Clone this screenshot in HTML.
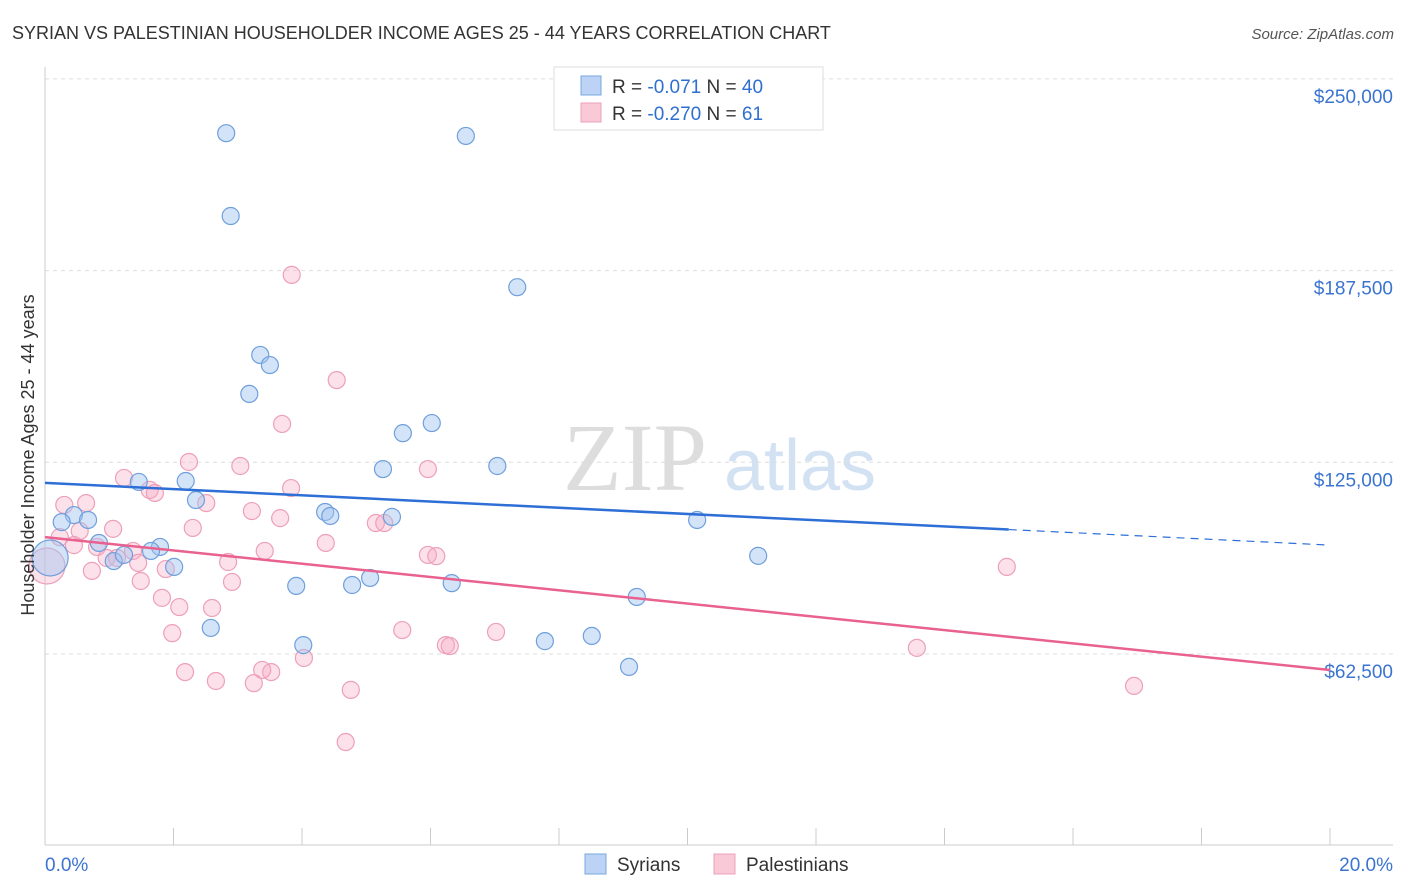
<!DOCTYPE html>
<html><head><meta charset="utf-8"><style>
body{margin:0;background:#fff;font-family:"Liberation Sans",sans-serif}
svg{display:block}
</style></head><body>
<svg id="chart" width="1406" height="892" viewBox="0 0 1406 892" xmlns="http://www.w3.org/2000/svg">
<text x="12" y="39" font-size="18" fill="#333">SYRIAN VS PALESTINIAN HOUSEHOLDER INCOME AGES 25 - 44 YEARS CORRELATION CHART</text>
<text x="1394" y="39" font-size="15" fill="#555" text-anchor="end" font-style="italic">Source: ZipAtlas.com</text>
<g><text x="635" y="490" font-size="96" fill="#ddd" font-family="Liberation Serif" text-anchor="middle">ZIP</text><text x="800" y="490" font-size="72" fill="#d3e2f3" text-anchor="middle">atlas</text></g>
<g id="grid"></g>
<g id="axes"></g>
<g id="marks"></g>
<text transform="translate(34,455) rotate(-90)" font-size="18" fill="#333" text-anchor="middle">Householder Income Ages 25 - 44 years</text>
<g>
<rect x="554" y="67" width="269" height="63" fill="#fff" stroke="#ddd"/>
<rect x="581" y="76" width="20" height="19" fill="#bcd3f5" stroke="#7aa7e0"/>
<rect x="581" y="103" width="20" height="19" fill="#f9c9d7" stroke="#eda0b8"/>
<text x="612" y="93" font-size="19" fill="#333">R = <tspan fill="#2f6fd0">-0.071</tspan>   N = <tspan fill="#2f6fd0">40</tspan></text>
<text x="612" y="120" font-size="19" fill="#333">R = <tspan fill="#2f6fd0">-0.270</tspan>   N =  <tspan fill="#2f6fd0">61</tspan></text>
</g>
<g>
<rect x="585" y="854" width="21" height="20" fill="#bcd3f5" stroke="#7aa7e0"/>
<text x="617" y="871" font-size="19" fill="#333">Syrians</text>
<rect x="714" y="854" width="21" height="20" fill="#f9c9d7" stroke="#eda0b8"/>
<text x="746" y="871" font-size="19" fill="#333">Palestinians</text>
</g>
</svg>
<script>
const yTicks=[62500,125000,187500,250000];
const yTickLabels=["$62,500","$125,000","$187,500","$250,000"];
const xTickLabels=["0.0%","20.0%"];
const syrX=[2.82,6.55,2.89,7.35,3.35,3.50,3.18,6.02,5.57,5.26,7.04,2.19,1.46,2.35,0.45,0.67,0.26,4.36,4.44,5.40,10.15,0.84,1.79,1.65,1.07,1.23,2.01,11.10,5.06,3.91,4.78,6.33,9.21,2.58,4.02,7.78,8.51,9.09,0.08];
const syrY=[232.3,231.4,205.3,182.1,160.0,156.7,147.3,137.8,134.5,122.8,123.8,118.9,118.6,112.7,107.8,106.2,105.5,108.8,107.5,107.2,106.2,98.7,97.4,96.1,92.8,94.8,90.9,94.5,87.3,84.7,85.0,85.6,81.1,71.0,65.4,66.7,68.4,58.3,93.8];
const palX=[3.84,4.54,3.69,1.23,2.24,3.04,5.96,3.83,1.63,1.71,0.30,0.64,2.51,3.22,3.66,5.15,5.28,1.06,2.30,0.54,0.23,4.37,3.42,0.45,0.81,1.37,0.96,1.12,1.45,2.85,5.96,6.09,0.73,1.88,2.91,1.49,1.82,2.09,2.60,14.97,1.98,5.56,7.02,6.24,6.30,4.03,13.57,2.18,3.52,3.38,2.66,3.25,4.76,16.95,4.68,0.03];
const palY=[186.1,151.8,137.5,119.9,125.1,123.8,122.8,116.6,116.0,115.0,111.1,111.7,111.7,109.1,106.8,105.2,105.2,103.3,103.6,102.6,100.6,98.7,96.1,98.0,97.4,96.1,93.8,93.8,92.2,92.5,94.8,94.4,89.6,90.2,86.0,86.3,80.8,77.8,77.5,90.9,69.3,70.3,69.7,65.4,65.1,61.2,64.5,56.6,56.6,57.3,53.7,53.0,50.8,52.1,33.8,91.2];
const syrTrend=[118.3,98.0]; // at 0% and 20%
const palTrend=[100.6,57.3];
const syrSolidEnd=15;
const X=p=>45+p*64.25;
const Y=v=>845.7-v*191.7/62500;
const NS="http://www.w3.org/2000/svg";
function mk(t,a,parent){const e=document.createElementNS(NS,t);for(const k in a)e.setAttribute(k,a[k]);document.getElementById(parent).appendChild(e);return e;}
yTicks.forEach((v,i)=>{
 const l=mk('line',{x1:45,x2:1393,y1:Y(v),y2:Y(v),stroke:'#ddd','stroke-dasharray':'4,4'},'grid');
 
 
 const t=mk('text',{x:1393,y:Y(v)+24,'font-size':19,fill:'#3a74d0','text-anchor':'end'},'grid');
 t.textContent=yTickLabels[i];
 
 
});
const ax=mk('line',{x1:45,x2:45,y1:67,y2:845,stroke:'#ccc'},'axes');


const bx=mk('line',{x1:45,x2:1393,y1:845,y2:845,stroke:'#ccc'},'axes');


for(let i=0;i<=10;i++){
 const tk=mk('line',{x1:X(i*2),x2:X(i*2),y1:828,y2:845,stroke:'#ccc'},'axes');
 
 
}
[[0,'start',45],[20,'end',1393]].forEach((d,i)=>{
 const t=mk('text',{x:d[2],y:871,'font-size':19,fill:'#3a74d0','text-anchor':d[1]},'axes');
 t.textContent=xTickLabels[i];
 
 
});
function dots(xs,ys,fill,stroke,name){
 xs.forEach((x,i)=>{
  const big=(x<0.1);
  const c=mk('circle',{cx:X(x),cy:Y(ys[i]*1000),r:big?18:8.5,fill:fill,stroke:stroke,'stroke-width':1.2},'marks');
  
  
 });
}
dots(palX,palY,'rgba(245,170,195,0.35)','#eda0b8','palestinian-point');
dots(syrX,syrY,'rgba(160,196,240,0.45)','#6f9fdc','syrian-point');
const sy=p=>syrTrend[0]+(syrTrend[1]-syrTrend[0])*p/20;
const l1=mk('line',{x1:X(0),y1:Y(sy(0)*1000),x2:X(syrSolidEnd),y2:Y(sy(syrSolidEnd)*1000),stroke:'#2d6fd6','stroke-width':2.5},'marks');


const l2=mk('line',{x1:X(syrSolidEnd),y1:Y(sy(syrSolidEnd)*1000),x2:X(20),y2:Y(sy(20)*1000),stroke:'#2d6fd6','stroke-width':1.2,'stroke-dasharray':'8,6'},'marks');


const l3=mk('line',{x1:X(0),y1:Y(palTrend[0]*1000),x2:X(20),y2:Y(palTrend[1]*1000),stroke:'#e8618f','stroke-width':2.5},'marks');


</script>
</body></html>
